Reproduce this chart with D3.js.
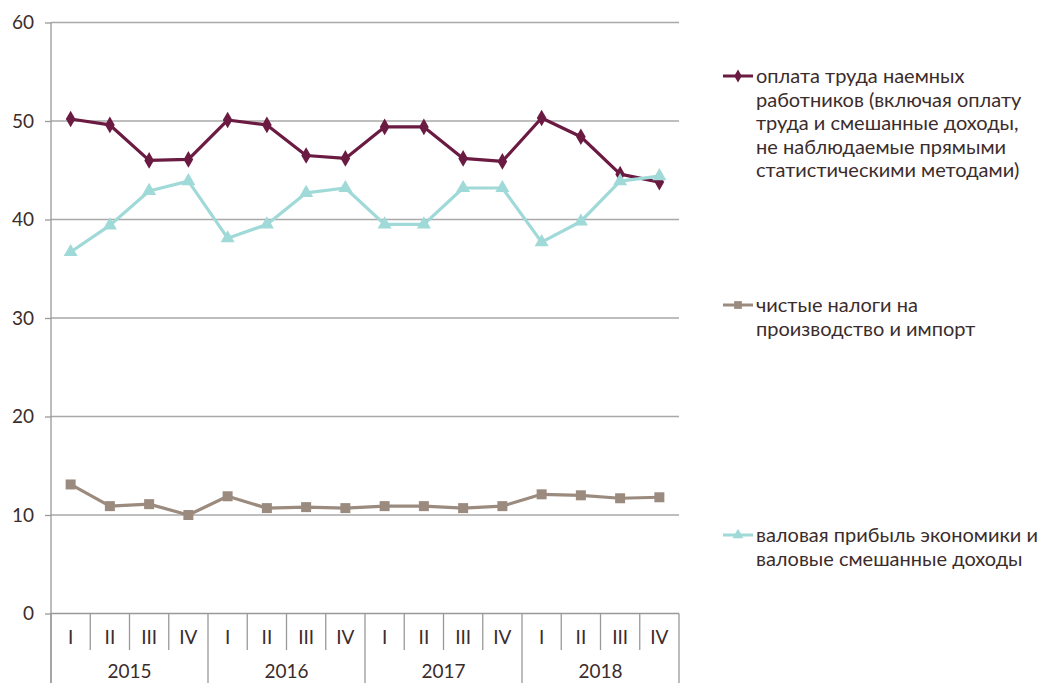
<!DOCTYPE html>
<html>
<head>
<meta charset="utf-8">
<script src="https://cdn.jsdelivr.net/npm/d3@7"></script>
<style>
  body { margin: 0; background: #fff; }
  svg { display: block; font-family: Lato, "Open Sans", sans-serif; }
</style>
</head>
<body>
<svg width="1043" height="683"></svg>
<script>
// values, % of GDP by quarter
const years = ["2015", "2016", "2017", "2018"];
const quarters = ["I", "II", "III", "IV"];
const compensation = [50.2, 49.6, 46.0, 46.1, 50.1, 49.6, 46.5, 46.2, 49.4, 49.4, 46.2, 45.9, 50.3, 48.4, 44.6, 43.8];
const netTaxes = [13.1, 10.9, 11.1, 10.0, 11.9, 10.7, 10.8, 10.7, 10.9, 10.9, 10.7, 10.9, 12.1, 12.0, 11.7, 11.8];
const grossProfit = [36.7, 39.4, 42.9, 43.9, 38.1, 39.5, 42.7, 43.2, 39.5, 39.5, 43.2, 43.2, 37.7, 39.8, 43.9, 44.4];
const yTicks = [0, 10, 20, 30, 40, 50, 60];

const legendLabels = [
    ["оплата труда наемных", "работников (включая оплату", "труда и смешанные доходы,", "не наблюдаемые прямыми", "статистическими методами)"],
    ["чистые налоги на", "производство и импорт"],
    ["валовая прибыль экономики и", "валовые смешанные доходы"]
];

const categories = years.flatMap(y => quarters.map(q => y + "-" + q));

const series = [
    {values: compensation, color: "#6b1a42", symbol: d3.symbolDiamond, size: 80, legendY: 76, labels: legendLabels[0]},
    {values: netTaxes, color: "#9b8b7f", symbol: d3.symbolSquare, size: 100, legendY: 305, labels: legendLabels[1]},
    {values: grossProfit, color: "#9fd9d8", symbol: d3.symbolTriangle, size: 85, legendY: 535, labels: legendLabels[2]}
];

const textColor = "#3b2c2c";
const svg = d3.select("svg");

const plotLeft = 51, plotRight = 679, plotTop = 22.5, plotBottom = 613.5;

const x = d3.scaleBand().domain(categories).range([plotLeft, plotRight]);
const xYear = d3.scaleBand().domain(years).range([plotLeft, plotRight]);
const y = d3.scaleLinear().domain([0, 60]).range([plotBottom, plotTop]);

// gridlines
svg.append("g")
    .selectAll("line")
    .data(yTicks.filter(d => d > 0))
    .enter().append("line")
    .attr("x1", plotLeft).attr("x2", plotRight)
    .attr("y1", d => y(d)).attr("y2", d => y(d))
    .attr("stroke", "#a9a9a9")
    .attr("stroke-width", 1.3);

// y axis
const yAxis = svg.append("g")
    .attr("transform", `translate(${plotLeft},0)`)
    .call(d3.axisLeft(y).tickValues(yTicks).tickSize(6).tickPadding(11));
yAxis.select(".domain").attr("stroke", "#999").attr("stroke-width", 1.3)
    .attr("d", `M0,${plotTop}V683`);
yAxis.selectAll(".tick line").attr("stroke", "#999").attr("stroke-width", 1.3);
yAxis.selectAll(".tick text")
    .attr("fill", textColor)
    .style("font-size", "19px")
    .style("font-family", "Lato, sans-serif");

// x axis: quarters
const xAxis = svg.append("g")
    .attr("transform", `translate(0,${plotBottom})`)
    .call(d3.axisBottom(x).tickSize(0).tickPadding(17).tickFormat(d => d.split("-")[1]));
xAxis.select(".domain").attr("stroke", "#999").attr("stroke-width", 1.3)
    .attr("d", `M${plotLeft},0H${plotRight}`);
xAxis.selectAll(".tick text")
    .attr("fill", textColor)
    .style("font-size", "19px")
    .style("font-family", "Lato, sans-serif");

// quarter separators
svg.append("g")
    .selectAll("line")
    .data(categories.filter((d, i) => i % 4 !== 0))
    .enter().append("line")
    .attr("x1", d => x(d)).attr("x2", d => x(d))
    .attr("y1", plotBottom).attr("y2", 650)
    .attr("stroke", "#999").attr("stroke-width", 1.3);

// year separators and labels
svg.append("g")
    .selectAll("line")
    .data(years.map(d => xYear(d)).concat([plotRight]))
    .enter().append("line")
    .attr("x1", d => d).attr("x2", d => d)
    .attr("y1", plotBottom).attr("y2", 683)
    .attr("stroke", "#999").attr("stroke-width", 1.3);

svg.append("g")
    .selectAll("text")
    .data(years)
    .enter().append("text")
    .attr("x", d => xYear(d) + xYear.bandwidth() / 2)
    .attr("y", 678)
    .attr("text-anchor", "middle")
    .attr("fill", textColor)
    .style("font-size", "19px")
    .text(d => d);

// lines and markers
const line = d3.line()
    .x((d, i) => x(categories[i]) + x.bandwidth() / 2)
    .y(d => y(d));

series.forEach(s => {
    svg.append("path")
        .datum(s.values)
        .attr("d", line)
        .attr("fill", "none")
        .attr("stroke", s.color)
        .attr("stroke-width", 3.2)
        .attr("stroke-linejoin", "round");

    svg.append("g")
        .selectAll("path")
        .data(s.values)
        .enter().append("path")
        .attr("d", d3.symbol().type(s.symbol).size(s.size))
        .attr("transform", (d, i) => `translate(${x(categories[i]) + x.bandwidth() / 2},${y(d)})`)
        .attr("fill", s.color);
});

// legend
series.forEach(s => {
    const g = svg.append("g").attr("transform", `translate(0,${s.legendY})`);
    g.append("line")
        .attr("x1", 723).attr("x2", 753)
        .attr("stroke", s.color).attr("stroke-width", 3);
    g.append("path")
        .attr("d", d3.symbol().type(s.symbol).size(s.size * 0.6))
        .attr("transform", "translate(738,0)")
        .attr("fill", s.color);
    g.append("text")
        .attr("fill", textColor)
        .style("font-size", "20px")
        .selectAll("tspan")
        .data(s.labels)
        .enter().append("tspan")
        .attr("x", 756)
        .attr("y", (d, i) => i * 23.6)
        .attr("dy", "0.35em")
        .text(d => d);
});
</script>
</body>
</html>
